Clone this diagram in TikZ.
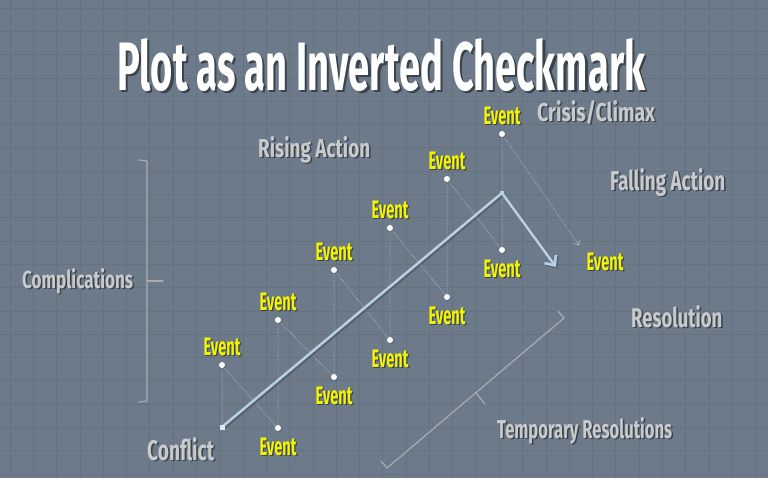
\documentclass[tikz,border=0pt]{standalone}
\usepackage{fontspec}
\setmainfont{Fira Sans}
\usetikzlibrary{arrows.meta,shadows}
\definecolor{bg}{HTML}{6C7A8A}
\definecolor{gridc}{HTML}{66737F}
\definecolor{lbl}{HTML}{C9CACC}
\definecolor{shad}{HTML}{3A424C}
\definecolor{evt}{HTML}{F4F400}
\definecolor{plotc}{HTML}{B9D1E6}
\definecolor{brk}{HTML}{A8ACB0}
\definecolor{dotl}{HTML}{D0D6DD}
\newcommand{\sht}[5]{%
\makebox[0pt][l]{\hspace*{#4pt}\raisebox{-#4pt}{\resizebox{#1pt}{#2pt}{\color{shad}\bfseries #5}}}%
\resizebox{#1pt}{#2pt}{\color{#3}\bfseries #5}}
\newcommand{\evtxt}{\sht{37}{17.5}{evt}{1.2}{Event}}
\begin{document}
\begin{tikzpicture}[x=1pt,y=-1pt,
  evtdot/.style={circle,fill=white,inner sep=0pt,minimum size=6pt,
    drop shadow={shadow xshift=0.8pt,shadow yshift=-0.8pt,opacity=0.45,fill=shad}},
  sqmark/.style={rectangle,fill=plotc!50!white,inner sep=0pt,minimum size=5pt},
  dotlink/.style={draw=dotl,line width=0.5pt,densely dotted},
  lab/.style={inner sep=0pt,anchor=base west},
  evlab/.style={inner sep=0pt,anchor=base},
  plotline/.style={draw=plotc,line width=2.5pt,line join=miter},
  bracket/.style={draw=brk,line width=1.2pt,line cap=round,line join=round}]
\useasboundingbox (0,0) rectangle (768,491);
\fill[white] (0,0) rectangle (768,491);
\fill[bg] (0,0) rectangle (768,478);
\begin{scope}
\clip (0,0) rectangle (768,478);
\foreach \i in {0,...,33} {
  \draw[gridc,line width=0.8pt] (\i*23.3+10,0) -- (\i*23.3+10,478);
}
\foreach \j in {0,...,21} {
  \draw[gridc,line width=0.8pt] (0,\j*23.3+8) -- (768,\j*23.3+8);
}
\end{scope}

% key points
\coordinate (C) at (222,427);
\coordinate (P) at (502,193);
\coordinate (fa) at (556,267);
\coordinate (fe) at (579,245);
\coordinate (T1) at (222,365);
\coordinate (T2) at (278,320);
\coordinate (T3) at (334,270);
\coordinate (T4) at (390,228);
\coordinate (T5) at (447,179);
\coordinate (T6) at (502,134);
\coordinate (B1) at (278,428);
\coordinate (B2) at (334,377);
\coordinate (B3) at (390,340);
\coordinate (B4) at (447,297);
\coordinate (B5) at (502,250);

% dotted links
\draw[dotlink] (C) -- (T1) -- (B1) -- (T2) -- (B2) -- (T3) -- (B3) -- (T4) -- (B4) -- (T5) -- (B5) -- (T6);
\draw[dotlink,-{Straight Barb[length=3.5pt,width=6pt]}] (T6) -- (fe);

% main plot line
\draw[plotline,draw=shad,opacity=0.45,transform canvas={shift={(1.5pt,-1.5pt)}},
  -{Straight Barb[length=8pt,width=14pt]}] (C) -- (P) -- (fa);
\draw[plotline,-{Straight Barb[length=8pt,width=14pt]}] (C) -- (P) -- (fa);
\node[sqmark] (cm) at (C) {};
\node[sqmark,minimum size=4.5pt,fill=plotc] (pm) at (P) {};

% event dots
\foreach \n in {T1,T2,T3,T4,T5,T6,B1,B2,B3,B4,B5} {
  \node[evtdot] (d\n) at (\n) {};
}

% event labels
\foreach \n in {T1,T2,T3,T4,T5,T6} {
  \node[evlab] (l\n) at ([yshift=9.5pt]\n) {\evtxt};
}
\foreach \n in {B1,B2,B3,B4,B5} {
  \node[evlab] (l\n) at ([yshift=-27pt]\n) {\evtxt};
}
\node[evlab] (lfe) at (605,270) {\evtxt};

% brackets
\draw[bracket] (139,160) -- (147,161) -- (147,401) -- (139,402);
\draw[bracket] (147,281) -- (163,281);
\draw[bracket] (381,461) -- (387,468) -- (564,318) -- (558,311);
\draw[bracket] (476,393) -- (485,404);

% text labels
\node[lab] (title) at (117,90) {\sht{528}{52}{white}{2.2}{Plot as an Inverted Checkmark}};
\node[lab] (crisis) at (537,121) {\sht{118}{21}{lbl}{1.5}{Crisis/Climax}};
\node[lab] (rising) at (258,157) {\sht{112}{21}{lbl}{1.5}{Rising Action}};
\node[lab] (falling) at (610,190) {\sht{115}{22}{lbl}{1.5}{Falling Action}};
\node[lab] (resol) at (631,327) {\sht{91}{22}{lbl}{1.5}{Resolution}};
\node[lab] (compl) at (22,288) {\sht{111}{20}{lbl}{1.5}{Complications}};
\node[lab] (confl) at (147,460) {\sht{67}{23}{lbl}{1.5}{Conflict}};
\node[lab] (temp) at (497,438) {\sht{175}{21}{lbl}{1.5}{Temporary Resolutions}};
\end{tikzpicture}
\end{document}
